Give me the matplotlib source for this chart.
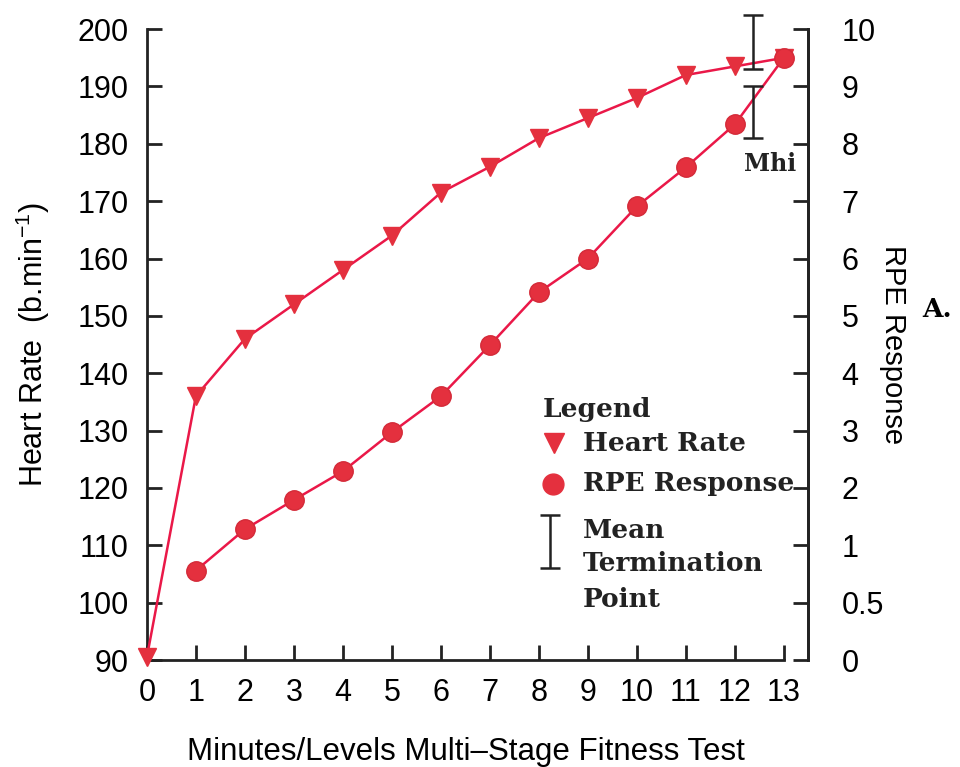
import numpy as np
import matplotlib
matplotlib.use("Agg")
from matplotlib import pyplot as plt

minutes = list(range(14))
heart_rate = [90.5, 136, 146, 152, 158, 164, 171.5, 176, 181, 184.5, 188, 192, 193.5, 195]
rpe_minutes = list(range(1, 14))
rpe = [0.78, 1.28, 1.79, 2.29, 2.97, 3.6, 4.49, 5.41, 6.0, 6.91, 7.59, 8.34, 9.5]

# mean termination point (low, high) for each measure
term_x = 12.37
hr_term = (193.1, 202.4)
rpe_term = (8.1, 9.0)

hr_ticks = [90, 100, 110, 120, 130, 140, 150, 160, 170, 180, 190, 200]
rpe_ticks = [0, 0.5, 1, 2, 3, 4, 5, 6, 7, 8, 9, 10]
rpe_labels = ['0', '0.5', '1', '2', '3', '4', '5', '6', '7', '8', '9', '10']

def rpe_to_hr(v):
    return np.interp(v, rpe_ticks, hr_ticks)

red = '#ea1848'
mark = '#e4303e'
ink = '#222222'
sans = 'Liberation Sans'
serif = 'DejaVu Serif'

fig = plt.figure(figsize=(9.6, 7.67), dpi=100)
ax = fig.add_axes([0.153, 0.1395, 0.689, 0.8225])

ax.plot(minutes, heart_rate, color=red, lw=1.8, marker='v', ms=13,
        mfc=mark, mec=mark, clip_on=False, zorder=3)
ax.plot(rpe_minutes, rpe_to_hr(rpe), color=red, lw=1.8, marker='o', ms=14,
        mfc=mark, mec='#d42a38', clip_on=False, zorder=4)

for lo, hi in [hr_term, tuple(rpe_to_hr(rpe_term))]:
    ax.errorbar([term_x], [(lo + hi) / 2], yerr=[[(hi - lo) / 2]], fmt='none',
                ecolor=ink, elinewidth=1.8, capsize=7, capthick=1.8,
                clip_on=False, zorder=5)
ax.text(term_x + 0.35, rpe_to_hr(rpe_term[0]) - 4.5, 'Mhi', family=serif,
        fontsize=17, fontweight='bold', ha='center', va='center', color=ink)

ax.set_xlim(0, 13.5)
ax.set_ylim(90, 200)
ax.spines['top'].set_visible(False)
ax.spines['bottom'].set_bounds(0, 13)
for s in ['left', 'bottom', 'right']:
    ax.spines[s].set_linewidth(2)
    ax.spines[s].set_color(ink)

ax.set_xticks(minutes)
ax.set_yticks(hr_ticks)
ax.tick_params(direction='in', length=10.5, width=2, color=ink,
               labelsize=22, pad=13)
for lab in ax.get_xticklabels() + ax.get_yticklabels():
    lab.set_family(sans)

ax2 = ax.twinx()
ax2.set_ylim(90, 200)
ax2.set_yticks(hr_ticks)
ax2.set_yticklabels(rpe_labels)
ax2.spines['top'].set_visible(False)
ax2.spines['left'].set_visible(False)
ax2.spines['bottom'].set_visible(False)
ax2.spines['right'].set_linewidth(2)
ax2.spines['right'].set_color(ink)
ax2.tick_params(direction='in', length=10.5, width=2, color=ink,
                labelsize=22, pad=24)
for lab in ax2.get_yticklabels():
    lab.set_family(sans)

ax.set_xlabel('Minutes/Levels Multi\u2013Stage Fitness Test', family=sans,
              fontsize=22.5)
ax.xaxis.set_label_coords(0.482, -0.122)
ax.set_ylabel('Heart Rate  (b.min$^{\\mathregular{-1}}$)', family=sans,
              fontsize=22, va='center')
ax.yaxis.set_label_coords(-0.172, 0.5)
ax2.set_ylabel('RPE Response', family=sans, fontsize=21, rotation=270,
               va='center')
ax2.yaxis.set_label_coords(1.128, 0.5)
fig.text(0.976, 0.596, 'A.', family=serif, fontsize=19, fontweight='bold',
         ha='center', va='center')

# legend drawn by hand in axes data coordinates
leg_font = dict(family=serif, fontsize=19, fontweight='bold', va='center', color=ink)
ax.text(8.08, 133.6, 'Legend', **leg_font)
ax.plot([8.3], [127.8], marker='v', ms=14, color=mark, ls='none')
ax.text(8.9, 127.8, 'Heart Rate', **leg_font)
ax.plot([8.29], [120.7], marker='o', ms=15, color=mark, ls='none')
ax.text(8.9, 120.7, 'RPE Response', **leg_font)
ax.errorbar([8.22], [110.7], yerr=[[4.6]], fmt='none', ecolor=ink,
            elinewidth=1.8, capsize=7, capthick=1.8)
ax.text(8.9, 112.5, 'Mean', **leg_font)
ax.text(8.9, 106.9, 'Termination', **leg_font)
ax.text(8.9, 100.5, 'Point', **leg_font)

fig.savefig('out.png', dpi=100)
